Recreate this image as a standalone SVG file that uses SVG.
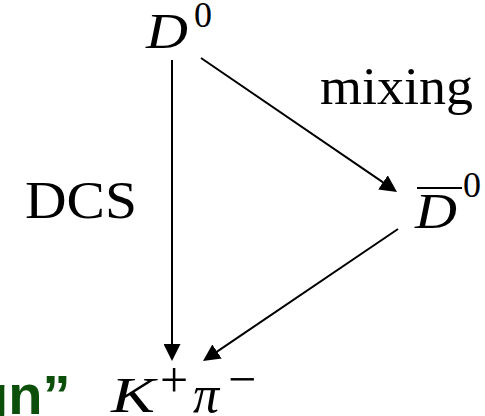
<svg xmlns="http://www.w3.org/2000/svg" width="485" height="416" viewBox="0 0 485 416">
<style>
.m{font-family:"Liberation Serif","DejaVu Serif",serif;fill:#000}
.it{font-style:italic}
.lbl{font-family:"Liberation Serif","DejaVu Serif",serif;font-size:52px;fill:#000}
.edge{stroke:#000;stroke-width:2;fill:none}
.green{font-family:"Liberation Sans",Arial,sans-serif;font-weight:bold;font-size:56px;fill:#0b4f0b}
</style>
<defs>
<marker id="ah" viewBox="0 0 17 17" refX="13" refY="8.5" markerWidth="17" markerHeight="17" markerUnits="userSpaceOnUse" orient="auto">
<path d="M0,0 L17,8.5 L0,17 z" fill="#000"/>
</marker>
</defs>
<rect width="485" height="416" fill="#fff"/>
<g id="connectors">
<line class="edge" x1="172" y1="60" x2="172" y2="357" marker-end="url(#ah)"/>
<line class="edge" x1="201" y1="58" x2="393.7" y2="189.7" marker-end="url(#ah)"/>
<line class="edge" x1="398" y1="229" x2="206.3" y2="358.8" marker-end="url(#ah)"/>
</g>
<g id="node-D0">
<text class="m it" x="146" y="48" font-size="51" textLength="42" lengthAdjust="spacingAndGlyphs">D</text>
<text class="m" x="194" y="27" font-size="36">0</text>
</g>
<g id="node-D0bar">
<line x1="417" y1="188" x2="462" y2="188" stroke="#000" stroke-width="2"/>
<text class="m it" x="415" y="228" font-size="51" textLength="42" lengthAdjust="spacingAndGlyphs">D</text>
<text class="m" x="463" y="197" font-size="36">0</text>
</g>
<g id="node-Kpi">
<text class="m it" x="111" y="412" font-size="51" textLength="44" lengthAdjust="spacingAndGlyphs">K</text>
<text class="m" x="160" y="397" font-size="50">+</text>
<text class="m it" x="193" y="412" font-size="52">π</text>
<text class="m" x="228" y="396" font-size="50">−</text>
</g>
<g id="label-mixing">
<text class="lbl" x="320" y="104" textLength="153" lengthAdjust="spacingAndGlyphs">mixing</text>
</g>
<g id="label-DCS">
<text class="lbl" x="25" y="218" textLength="112" lengthAdjust="spacingAndGlyphs">DCS</text>
</g>
<g id="label-green">
<text class="green" x="-26" y="414">gn”</text>
</g>
</svg>
